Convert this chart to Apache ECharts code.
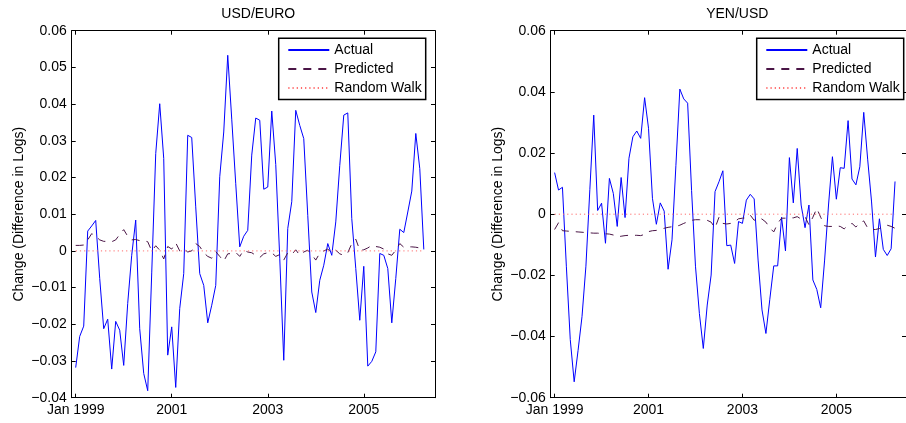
<!DOCTYPE html>
<html>
<head>
<meta charset="utf-8">
<script src="https://cdn.jsdelivr.net/npm/echarts@6/dist/echarts.min.js"></script>
<style>
  html, body { margin: 0; padding: 0; background: #fff; }
  #chart { width: 906px; height: 423px; }
</style>
</head>
<body>
<div id="chart"></div>
<script>
// Monthly changes (difference in logs), Jan 1999 onwards; x = months since Jan 1999
const xTickMonths = [0, 24, 48, 72];
const xTickLabels = ['Jan 1999', '2001', '2003', '2005'];
const legendNames = ['Actual', 'Predicted', 'Random Walk'];

const usdEuroActual = [
  -0.0318, -0.0233, -0.0205, 0.0054, 0.0068, 0.0083, -0.0075, -0.0212, -0.0186, -0.0322,
  -0.0192, -0.0216, -0.0312, -0.0143, -0.0012, 0.0084, -0.0212, -0.0334, -0.0381, -0.0060,
  0.0265, 0.0401, 0.0252, -0.0284, -0.0207, -0.0372, -0.0157, -0.0062, 0.0315, 0.0309,
  0.0120, -0.0062, -0.0094, -0.0196, -0.0148, -0.0094, 0.0202, 0.0324, 0.0533, 0.0359,
  0.0183, 0.0011, 0.0040, 0.0056, 0.0261, 0.0362, 0.0356, 0.0168, 0.0174, 0.0381,
  0.0235, -0.0020, -0.0298, 0.0061, 0.0134, 0.0383, 0.0342, 0.0306, 0.0097, -0.0112,
  -0.0168, -0.0080, -0.0039, 0.0020, -0.0012, 0.0079, 0.0233, 0.0370, 0.0376, 0.0088,
  -0.0048, -0.0189, -0.0042, -0.0314, -0.0301, -0.0275, -0.0007, -0.0012, -0.0048, -0.0196,
  -0.0075, 0.0059, 0.0050, 0.0106, 0.0163, 0.0320, 0.0224, 0.0004
];
const usdEuroPredicted = [
  0.0015, 0.0015, 0.0016, 0.0030, 0.0047, 0.0040, 0.0030, 0.0026, 0.0026, 0.0025,
  0.0030, 0.0045, 0.0058, 0.0040, 0.0030, 0.0031, 0.0028, 0.0028, 0.0025, 0.0000,
  0.0014, 0.0002, -0.0022, 0.0012, 0.0005, 0.0022, 0.0000, 0.0006, -0.0003, 0.0000,
  0.0020, 0.0012, -0.0005, -0.0015, -0.0020, -0.0002, -0.0015, -0.0028, -0.0008, -0.0007,
  -0.0004, -0.0015, 0.0002, -0.0003, -0.0005, -0.0012, -0.0018, -0.0008, -0.0005, -0.0005,
  -0.0015, -0.0010, -0.0025, -0.0005, -0.0010, 0.0003, -0.0012, -0.0003, 0.0002, -0.0010,
  -0.0025, -0.0006, 0.0000, 0.0005, -0.0005, 0.0002, -0.0008, -0.0012, -0.0005, 0.0020,
  0.0032, 0.0002, 0.0003, 0.0008, 0.0015, 0.0012, 0.0010, 0.0005, -0.0008, -0.0012,
  0.0002, 0.0020, 0.0010, 0.0011, 0.0011, 0.0010, 0.0008, 0.0005
];
const usdEuroRandomWalk = [
  0, 0, 0, 0, 0, 0, 0, 0, 0, 0, 0, 0, 0, 0, 0, 0, 0, 0, 0, 0, 0, 0,
  0, 0, 0, 0, 0, 0, 0, 0, 0, 0, 0, 0, 0, 0, 0, 0, 0, 0, 0, 0, 0, 0,
  0, 0, 0, 0, 0, 0, 0, 0, 0, 0, 0, 0, 0, 0, 0, 0, 0, 0, 0, 0, 0, 0,
  0, 0, 0, 0, 0, 0, 0, 0, 0, 0, 0, 0, 0, 0, 0, 0, 0, 0, 0, 0, 0, 0
];

const yenUsdActual = [
  0.0136, 0.0079, 0.0088, -0.0170, -0.0410, -0.0548, -0.0445, -0.0335, -0.0170, 0.0080,
  0.0324, 0.0012, 0.0036, -0.0095, 0.0117, 0.0068, -0.0040, 0.0120, -0.0011, 0.0183,
  0.0253, 0.0272, 0.0248, 0.0381, 0.0281, 0.0052, -0.0033, 0.0037, 0.0010, -0.0180,
  -0.0084, 0.0160, 0.0409, 0.0377, 0.0363, 0.0078, -0.0170, -0.0325, -0.0439, -0.0297,
  -0.0199, 0.0074, 0.0106, 0.0142, -0.0103, -0.0101, -0.0161, -0.0024, -0.0030, 0.0046,
  0.0065, 0.0050, -0.0150, -0.0313, -0.0390, -0.0278, -0.0169, -0.0169, -0.0010, -0.0120,
  0.0185, 0.0037, 0.0215, 0.0030, -0.0044, 0.0030, -0.0215, -0.0246, -0.0306, -0.0150,
  0.0030, 0.0188, 0.0049, 0.0152, 0.0150, 0.0306, 0.0115, 0.0096, 0.0155, 0.0333,
  0.0180, 0.0040, -0.0140, -0.0015, -0.0115, -0.0135, -0.0113, 0.0107
];
const yenUsdPredicted = [
  -0.0050, -0.0028, -0.0054, -0.0055, -0.0056, -0.0057, -0.0058, -0.0059, -0.0060, -0.0061,
  -0.0062, -0.0062, -0.0063, -0.0064, -0.0065, -0.0068, -0.0074, -0.0072, -0.0070, -0.0069,
  -0.0069, -0.0069, -0.0070, -0.0066, -0.0057, -0.0054, -0.0053, -0.0050, -0.0046, -0.0043,
  -0.0041, -0.0040, -0.0036, -0.0030, -0.0025, -0.0020, -0.0018, -0.0018, -0.0019, -0.0020,
  -0.0026, -0.0045, -0.0010, -0.0030, -0.0032, -0.0030, -0.0025, -0.0015, -0.0013, -0.0012,
  -0.0003, -0.0020, -0.0010, -0.0016, -0.0026, -0.0045, -0.0058, -0.0030, -0.0013, -0.0013,
  -0.0012, -0.0012, -0.0008, -0.0016, -0.0008, -0.0035, -0.0010, 0.0019, -0.0010, -0.0038,
  -0.0040, -0.0040, -0.0038, -0.0040, -0.0048, -0.0036, -0.0030, -0.0042, -0.0028, -0.0022,
  -0.0045, -0.0050, -0.0050, -0.0047, -0.0040, -0.0036, -0.0040, -0.0046
];
const yenUsdRandomWalk = [
  0, 0, 0, 0, 0, 0, 0, 0, 0, 0, 0, 0, 0, 0, 0, 0, 0, 0, 0, 0, 0, 0,
  0, 0, 0, 0, 0, 0, 0, 0, 0, 0, 0, 0, 0, 0, 0, 0, 0, 0, 0, 0, 0, 0,
  0, 0, 0, 0, 0, 0, 0, 0, 0, 0, 0, 0, 0, 0, 0, 0, 0, 0, 0, 0, 0, 0,
  0, 0, 0, 0, 0, 0, 0, 0, 0, 0, 0, 0, 0, 0, 0, 0, 0, 0, 0, 0, 0, 0
];

const FONT = '"Liberation Sans", Arial, Helvetica, sans-serif';
const X_MIN = -1, X_MAX = 89.8;

function pairs(values) {
  return values.map((v, i) => [i, v]);
}

function yLabel(v) {
  if (Math.abs(v) < 1e-9) return '0';
  const s = v.toFixed(2);
  return s.replace('-', '\u2212');
}

function panel(gridIndex, yMin, yMax, yStep) {
  const xBottom = {
    type: 'value', gridIndex, min: X_MIN, max: X_MAX, position: 'bottom',
    axisLine: { onZero: false, lineStyle: { color: '#000', width: 1 } },
    axisTick: { inside: true, length: 4, customValues: xTickMonths, lineStyle: { color: '#000' } },
    axisLabel: {
      customValues: xTickMonths, margin: 5, color: '#000', fontFamily: FONT, fontSize: 14,
      formatter: v => xTickLabels[xTickMonths.indexOf(Math.round(v))] || ''
    },
    splitLine: { show: false }
  };
  const xTop = {
    type: 'value', gridIndex, min: X_MIN, max: X_MAX, position: 'top',
    axisLine: { onZero: false, lineStyle: { color: '#000', width: 1 } },
    axisTick: { inside: true, length: 4, customValues: xTickMonths, lineStyle: { color: '#000' } },
    axisLabel: { show: false },
    splitLine: { show: false }
  };
  const yLeft = {
    type: 'value', gridIndex, min: yMin, max: yMax, interval: yStep, position: 'left',
    name: 'Change (Difference in Logs)', nameLocation: 'middle', nameGap: 46,
    nameTextStyle: { color: '#000', fontFamily: FONT, fontSize: 14 },
    axisLine: { show: true, onZero: false, lineStyle: { color: '#000', width: 1 } },
    axisTick: { show: true, inside: true, length: 4, lineStyle: { color: '#000' } },
    axisLabel: { margin: 5, color: '#000', fontFamily: FONT, fontSize: 14, formatter: yLabel },
    splitLine: { show: false }
  };
  const yRight = {
    type: 'value', gridIndex, min: yMin, max: yMax, interval: yStep, position: 'right',
    axisLine: { show: true, onZero: false, lineStyle: { color: '#000', width: 1 } },
    axisTick: { show: true, inside: true, length: 4, lineStyle: { color: '#000' } },
    axisLabel: { show: false },
    splitLine: { show: false }
  };
  return { xBottom, xTop, yLeft, yRight };
}

const chart = echarts.init(document.getElementById('chart'), null, { renderer: 'canvas' });

// The second frame runs slightly past the right edge of the canvas
const grids = [
  { left: 71.7, top: 30.7, width: 363.3, height: 367 },
  { left: 550.7, top: 30.7, width: 363.3, height: 367 }
];

const p0 = panel(0, -0.04, 0.06, 0.01);
const p1 = panel(1, -0.06, 0.06, 0.02);

function seriesFor(gridIdx, actual, predicted, rw) {
  const xi = gridIdx * 2, yi = gridIdx * 2;
  const base = { type: 'line', xAxisIndex: xi, yAxisIndex: yi, symbol: 'none', animation: false, silent: true };
  return [
    Object.assign({}, base, { name: legendNames[0], data: pairs(actual),
      lineStyle: { color: '#0000ff', width: 1 }, itemStyle: { color: '#0000ff' } }),
    Object.assign({}, base, { name: legendNames[1], data: pairs(predicted),
      lineStyle: { color: '#4a1546', width: 1, type: [8, 7] }, itemStyle: { color: '#4a1546' } }),
    Object.assign({}, base, { name: legendNames[2], data: pairs(rw),
      lineStyle: { color: '#ff6a6a', width: 1, type: [1.2, 3] }, itemStyle: { color: '#ff6a6a' } })
  ];
}

const legendBase = {
  orient: 'vertical', top: 38.3, width: 148,
  itemWidth: 41, itemHeight: 14, itemGap: 5,
  padding: [4.7, 4, 4.6, 8.6],
  backgroundColor: '#fff', borderColor: '#000', borderWidth: 1.5,
  textStyle: { color: '#000', fontFamily: FONT, fontSize: 14 },
  // only the line sample is shown, no marker
  itemStyle: { opacity: 0 },
  selectedMode: false, data: legendNames
};

chart.setOption({
  animation: false,
  backgroundColor: '#fff',
  title: [
    { text: 'USD/EURO', left: 253.3, top: 2, textAlign: 'center',
      textStyle: { color: '#000', fontFamily: FONT, fontSize: 14, fontWeight: 'normal' } },
    { text: 'YEN/USD', left: 732.3, top: 2, textAlign: 'center',
      textStyle: { color: '#000', fontFamily: FONT, fontSize: 14, fontWeight: 'normal' } }
  ],
  grid: grids,
  xAxis: [p0.xBottom, p0.xTop, p1.xBottom, p1.xTop],
  yAxis: [p0.yLeft, p0.yRight, p1.yLeft, p1.yRight],
  legend: [
    Object.assign({}, legendBase, { left: 278.7 }),
    Object.assign({}, legendBase, { left: 756.7 })
  ],
  series: [
    ...seriesFor(0, usdEuroActual, usdEuroPredicted, usdEuroRandomWalk),
    ...seriesFor(1, yenUsdActual, yenUsdPredicted, yenUsdRandomWalk)
  ]
});
</script>
</body>
</html>
